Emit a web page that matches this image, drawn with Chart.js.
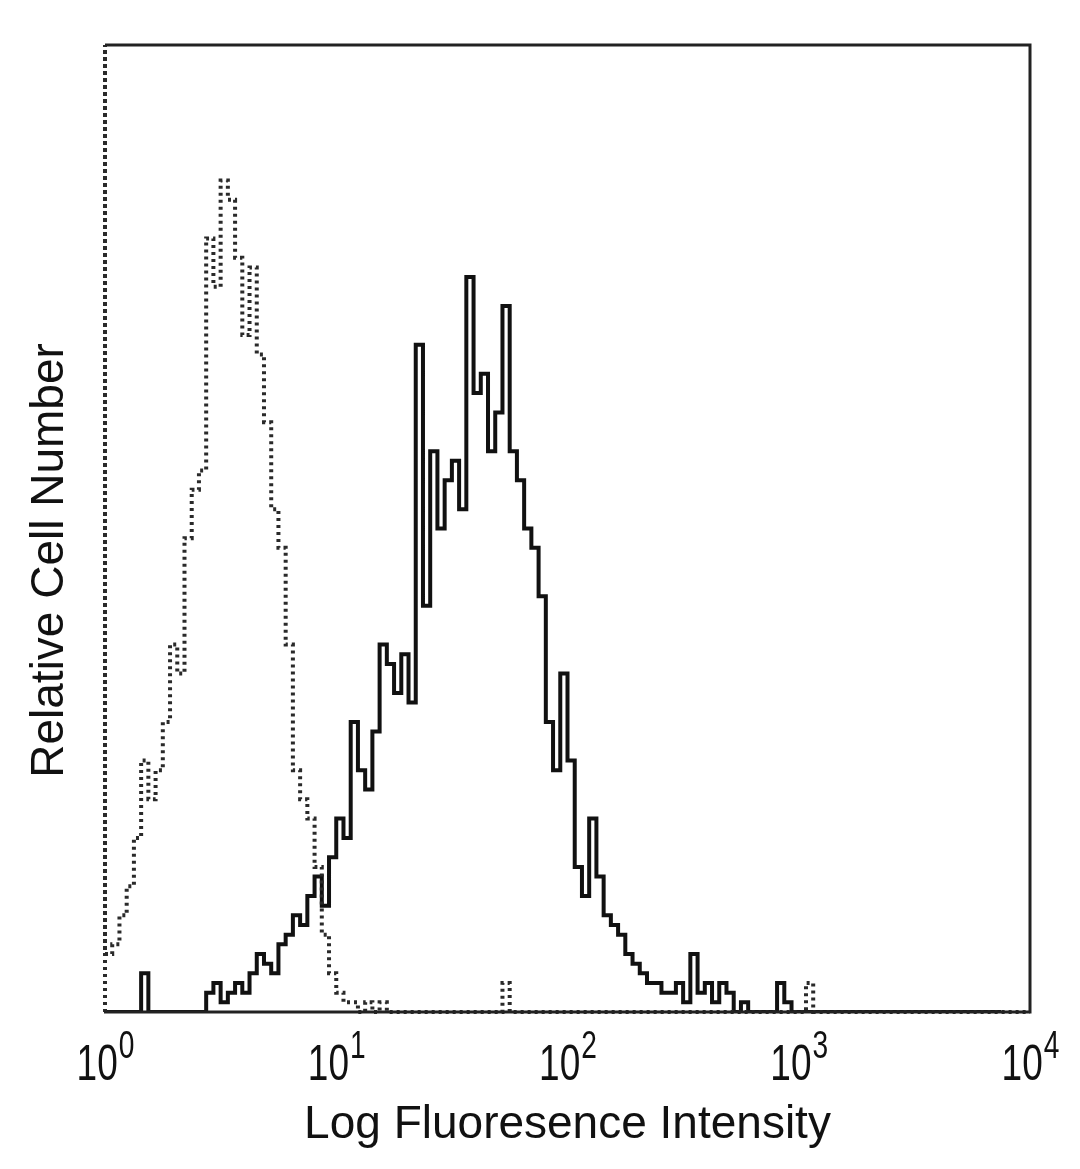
<!DOCTYPE html>
<html>
<head>
<meta charset="utf-8">
<script src="https://cdn.jsdelivr.net/npm/chart.js@4.4.1/dist/chart.umd.min.js"></script>
<style>
  html, body { margin: 0; padding: 0; background: #fff; }
  canvas { display: block; }
</style>
</head>
<body>
<canvas id="out" width="1080" height="1169"></canvas>
<script>
// 128 channels across 4 decades (32 channels per decade)
const decades = [0, 1, 2, 3, 4];
const tickExponents = ["0", "1", "2", "3", "4"];
const channelsPerDecade = 32;

// stained sample (solid line), counts per channel
const stainedCounts = [
  0, 0, 0, 0, 0, 0, 4, 0, 0, 0, 0, 0, 0, 0, 0, 2,
  3, 1, 2, 3, 2, 4, 6, 5, 4, 7, 8, 10, 9, 12, 14, 11,
  16, 20, 18, 30, 25, 23, 29, 38, 36, 33, 37, 32, 69, 42,
  58, 50, 55, 57, 52, 76, 64, 66, 58, 62, 73, 58, 55, 50,
  48, 43, 30, 25, 35, 26, 15, 12, 20, 14, 10, 9, 8, 6,
  5, 4, 3, 3, 2, 2, 3, 1, 6, 2, 3, 1, 3, 2, 0, 1,
  0, 0, 0, 0, 3, 1, 0, 0, 0, 0, 0, 0, 0, 0, 0, 0,
  0, 0, 0, 0, 0, 0, 0, 0, 0, 0, 0, 0, 0, 0, 0, 0,
  0, 0
];

// isotype control (dotted line), counts per channel
const controlCounts = [
  100, 6, 7, 10, 13, 18, 26, 22, 25, 30, 38, 35, 49, 54, 56, 80,
  75, 86, 84, 78, 70, 77, 68, 61, 52, 48, 38, 25, 22, 20, 15, 8,
  4, 2, 1, 1, 0, 1, 0, 1, 0, 0, 0, 0, 0, 0, 0, 0,
  0, 0, 0, 0, 0, 0, 0, 0, 3, 0, 0, 0, 0, 0, 0, 0,
  0, 0, 0, 0, 0, 0, 0, 0, 0, 0, 0, 0, 0, 0, 0, 0,
  0, 0, 0, 0, 0, 0, 0, 0, 0, 0, 0, 0, 0, 0, 0, 0,
  0, 0, 3, 0, 0, 0, 0, 0, 0, 0, 0, 0, 0, 0, 0, 0,
  0, 0, 0, 0, 0, 0, 0, 0, 0, 0, 0, 0, 0, 0, 0, 0
];

function toSteps(counts) {
  var pts = [{ x: 0, y: 0 }];
  for (let i = 0; i < counts.length; i++) {
    pts.push({ x: i, y: counts[i] });
  }
  pts.push({ x: counts.length, y: 0 });
  return pts;
}

// frame on top, right and bottom (the left edge comes from the control data)
const framePlugin = {
  id: "frame",
  afterDatasetsDraw(chart) {
    const a = chart.chartArea;
    const ctx = chart.ctx;
    ctx.save();
    ctx.strokeStyle = "#222";
    ctx.lineWidth = 3;
    ctx.beginPath();
    ctx.moveTo(a.left, a.top);
    ctx.lineTo(a.right, a.top);
    ctx.lineTo(a.right, a.bottom);
    ctx.lineTo(a.left - 1, a.bottom);
    ctx.stroke();
    ctx.restore();
  }
};

// 10^n tick labels drawn at the x scale positions
const decadeLabels = {
  id: "decadeLabels",
  afterDraw(chart) {
    const ctx = chart.ctx;
    const xs = chart.scales.x;
    const squeeze = 0.74;
    ctx.save();
    ctx.fillStyle = "#111";
    ctx.textBaseline = "alphabetic";
    for (let i = 0; i < decades.length; i++) {
      const px = xs.getPixelForValue(decades[i] * channelsPerDecade);
      ctx.font = "50px 'Liberation Sans', Arial, sans-serif";
      const wBase = ctx.measureText("10").width * squeeze;
      ctx.font = "38px 'Liberation Sans', Arial, sans-serif";
      const wExp = ctx.measureText(tickExponents[i]).width * squeeze;
      const start = px - (wBase + wExp) / 2;
      ctx.save();
      ctx.translate(start, 1080);
      ctx.scale(squeeze, 1);
      ctx.font = "50px 'Liberation Sans', Arial, sans-serif";
      ctx.fillText("10", 0, 0);
      ctx.restore();
      ctx.save();
      ctx.translate(start + wBase + 1, 1058);
      ctx.scale(squeeze, 1);
      ctx.font = "38px 'Liberation Sans', Arial, sans-serif";
      ctx.fillText(tickExponents[i], 0, 0);
      ctx.restore();
    }
    ctx.restore();
  }
};

const canvasCtx = document.getElementById("out").getContext("2d");

new Chart(canvasCtx, {
  type: "line",
  data: {
    datasets: [
      {
        label: "Control",
        data: toSteps(controlCounts),
        stepped: "after",
        borderColor: "#2a2a2a",
        borderWidth: 4,
        borderDash: [3, 4],
        pointRadius: 0,
        fill: false,
        clip: 6
      },
      {
        label: "Stained",
        data: toSteps(stainedCounts),
        stepped: "after",
        borderColor: "#111",
        borderWidth: 4,
        pointRadius: 0,
        fill: false
      }
    ]
  },
  options: {
    responsive: false,
    animation: false,
    devicePixelRatio: 1,
    layout: { padding: { left: 20, right: 50, top: 45, bottom: 0 } },
    plugins: {
      legend: { display: false },
      tooltip: { enabled: false }
    },
    scales: {
      x: {
        type: "linear",
        min: 0,
        max: decades[decades.length - 1] * channelsPerDecade,
        grid: { display: false },
        border: { display: false },
        ticks: { display: false },
        afterFit: function(scale) { scale.height = 157; },
        title: {
          display: true,
          text: "Log Fluoresence Intensity",
          color: "#111",
          font: { family: "'Liberation Sans', Arial, sans-serif", size: 46 },
          padding: { top: 0, bottom: 16 }
        }
      },
      y: {
        min: 0,
        max: 100,
        grid: { display: false },
        border: { display: false },
        ticks: { display: false },
        afterFit: function(scale) { scale.width = 85; },
        title: {
          display: true,
          text: "Relative Cell Number     ",
          color: "#111",
          font: { family: "'Liberation Sans', Arial, sans-serif", size: 46 },
          padding: { top: 3, bottom: 0 }
        }
      }
    }
  },
  plugins: [framePlugin, decadeLabels]
});
</script>
</body>
</html>
